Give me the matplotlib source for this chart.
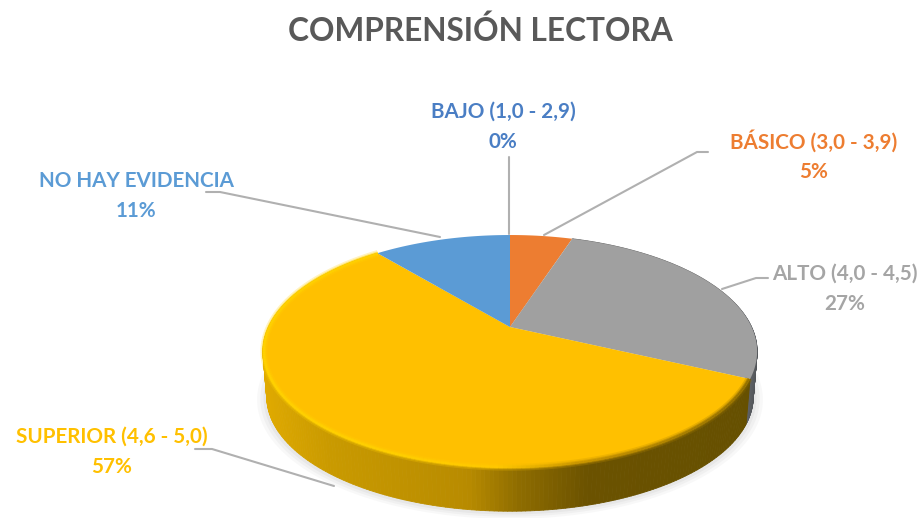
import numpy as np
import matplotlib
matplotlib.use("Agg")
import matplotlib.pyplot as plt
from matplotlib.collections import PolyCollection
from matplotlib.colors import to_rgb

## Data
TITLE = "COMPRENSIÓN LECTORA"
categories = ["BAJO (1,0 - 2,9)", "BÁSICO (3,0 - 3,9)", "ALTO (4,0 - 4,5)", "SUPERIOR (4,6 - 5,0)", "NO HAY EVIDENCIA"]
shares = [0, 5, 27, 57, 11]
slice_colors = ["#4472c4", "#ed7d31", "#a0a0a0", "#ffc000", "#5b9bd5"]
label_colors = ["#4a7ec4", "#ed7d31", "#a5a5a5", "#ffc000", "#5b9bd5"]

## Label positions, pixels
label_xy = [(503, 127), (814, 156), (845, 289), (112, 452), (136, 196)]
leaders = [
    [(509, 157), (509, 234)],
    [(708, 152), (697, 152), (544, 235)],
    [(768, 278), (756, 278), (722, 289)],
    [(195, 449), (212, 449), (334, 486)],
    [(206, 192), (220, 192), (440, 237)],
]

## Pie geometry, pixels
CX, CY = 510, 327
A, B, K = 241.6, 111.3, 0.21
DEPTH = 46
BOTTOM_SCALE = 0.985


def rim(theta, scale=1.0):
    # theta clockwise from the top, tilted circle with some perspective
    u = np.sin(theta) * scale
    v = np.cos(theta) * scale
    w = 1 + K * v
    return CX + A * u / w, CY - B * v / w


def ramp(x, stops):
    xs = [s[0] for s in stops]
    rgb = np.array([to_rgb(s[1]) for s in stops])
    return np.column_stack([np.interp(x, xs, rgb[:, i]) for i in range(3)])


gold_side = [(262, "#e0aa00"), (330, "#c99a00"), (470, "#b88b00"), (520, "#8f6d00"), (590, "#6b5200"), (750, "#665000")]
gray_side = [(735, "#777777"), (750, "#5f6266"), (760, "#4d5054")]
gold_rim = [(262, "#ffd200"), (400, "#ffcf00"), (500, "#ffc800"), (580, "#c99500"), (750, "#8f6d00")]

fig = plt.figure(figsize=(9.22, 5.18), dpi=100)
ax = fig.add_axes([0, 0, 1, 1])
ax.set_xlim(0, 922)
ax.set_ylim(518, 0)
ax.axis("off")
plt.rcParams['font.family'] = ['Lato', 'DejaVu Sans']

fractions = np.cumsum([0] + shares) / sum(shares)
edges = fractions * 2 * np.pi

## Soft shadow under the pie
t = np.linspace(0, 2 * np.pi, 300)
for grow, alpha in [(9, 0.05), (6, 0.06), (3, 0.08)]:
    sx, sy = rim(t, BOTTOM_SCALE + grow / 240.0)
    ax.fill(sx, sy + DEPTH + 1, color="#808080", alpha=alpha, lw=0)

## Side wall
for i in range(len(shares)):
    if shares[i] == 0 or slice_colors[i] not in ("#ffc000", "#a0a0a0"):
        continue
    t = np.linspace(edges[i], edges[i + 1], 240)
    x, y = rim(t)
    bx, by = rim(t, BOTTOM_SCALE)
    by = by + DEPTH
    quads = [[(x[j], y[j]), (x[j + 1], y[j + 1]), (bx[j + 1], by[j + 1]), (bx[j], by[j])]
             for j in range(len(t) - 1)]
    stops = gold_side if slice_colors[i] == "#ffc000" else gray_side
    cols = ramp(x[:-1], stops)
    ax.add_collection(PolyCollection(quads, facecolors=cols, edgecolors=cols, linewidths=0.6))

## Top face
for i in range(len(shares)):
    if shares[i] == 0:
        continue
    t = np.linspace(edges[i], edges[i + 1], 200)
    x, y = rim(t)
    ax.fill(np.r_[CX, x], np.r_[CY, y], color=slice_colors[i], lw=0)

## Bevel on the rim
for i in range(len(shares)):
    if slice_colors[i] != "#ffc000":
        continue
    t = np.linspace(edges[i], edges[i + 1], 240)
    for width, alpha in [(7, 0.25), (4, 0.5), (2, 0.9)]:
        x, y = rim(t, 1 - 0.004)
        cols = ramp(x[:-1], gold_rim)
        for j in range(len(t) - 1):
            ax.plot(x[j:j + 2], y[j:j + 2], color=cols[j], lw=width * 0.72, alpha=alpha, solid_capstyle="butt")

## Leader lines
for line in leaders:
    lx, ly = zip(*line)
    ax.plot(lx, ly, color="#b0b0b0", lw=1.5, solid_capstyle="round")

## Text
ax.text(480, 31, TITLE, ha="center", va="center", fontsize=22.8, fontweight="bold", color="#595959")
for i in range(len(categories)):
    ax.text(label_xy[i][0], label_xy[i][1], "%s\n%d%%" % (categories[i], shares[i]), ha="center", va="center",
            fontsize=14.9, fontweight="bold", color=label_colors[i], linespacing=1.62)

fig.savefig("out.png", dpi=100)
